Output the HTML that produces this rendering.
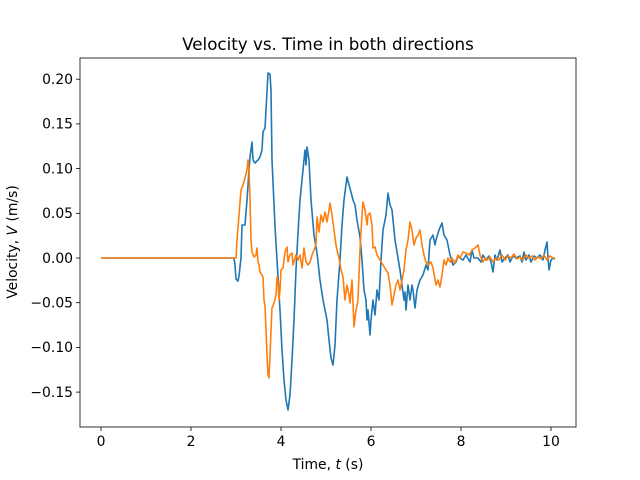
<!DOCTYPE html>
<html><head><style>body{margin:0;background:#fff}svg{display:block}</style></head><body>
<svg width="640" height="480" xmlns="http://www.w3.org/2000/svg" font-family="DejaVu Sans, Liberation Sans, sans-serif">
<rect width="640" height="480" fill="#fff"/>
<g fill="none" stroke-width="1.6" stroke-linejoin="round">
<polyline stroke="#1f77b4" points="101,258 234,258 235,265 236,279 238,281 239,276 241,258 242,225 245,225 247,200 249,170 250,157 252,142 253,160 255,163 258,160 260,157 262,150 263,132 265,128 266,110 268,73 270,74 271,90 272,160 275,226 277,260 280,310 282,350 284,380 286,400 288,410 290,395 292,360 294,320 296,270 298,233 300,200 303,170 305,150 306,165 307,147 309,160 311,200 314,235 317,253 320,280 323,300 327,320 329,340 331,358 333,365 335,345 337,300 340,260 342,225 344,200 347,177 349,185 351,192 353,200 355,205 357,220 360,237 362,260 364,290 366,300 367,320 368,310 370,335 371,320 373,300 375,315 377,290 379,300 381,260 383,230 386,215 388,193 390,205 392,210 393,220 395,240 398,258 400,270 402,285 404,300 405,292 406,310 408,285 410,300 412,285 413,290 415,308 417,290 420,280 423,275 426,265 428,270 430,240 433,235 435,245 436,240 439,230 442,223 444,235 447,240 450,255 453,265 456,262 458,256 460,258 463,260 466,255 470,262 472,250 474,258 478,258 481,262 483,255 486,260 489,256 491,262 493,272 495,255 497,260 500,250 502,262 505,258 508,255 510,262 513,256 516,258 520,256 522,262 524,252 526,260 529,255 531,262 534,256 537,258 540,255 543,260 545,250 547,242 548,258 549,270 551,260 553,258 555,259"/>
<polyline stroke="#ff7f0e" points="101,258 236,258 237,240 239,215 241,190 243,185 245,178 247,170 248,160 249,170 250,200 251,240 252,252 254,257 256,255 257,248 258,262 259,265 260,272 262,275 263,277 264,300 265,306 266,330 267,355 268,375 269,378 270,355 271,330 272,308 274,303 276,295 277,277 278,282 279,300 280,290 281,270 283,268 285,252 287,247 288,262 290,255 292,253 293,265 296,255 298,260 300,255 302,268 304,248 306,262 308,265 310,262 312,255 314,250 316,245 317,217 319,232 321,215 323,222 325,212 327,222 329,210 330,203 332,215 334,230 336,245 337,250 339,258 341,270 343,277 345,300 347,285 349,295 350,303 352,280 354,327 356,310 358,300 360,250 362,215 363,202 365,210 367,225 368,215 370,213 372,225 373,248 375,247 377,255 380,260 383,265 386,270 388,273 390,285 392,305 394,295 396,285 398,280 400,290 402,280 404,270 406,250 408,240 410,222 412,230 414,245 416,238 418,235 420,230 422,245 424,255 426,262 428,265 431,262 433,268 436,285 438,280 440,287 442,275 444,260 446,265 448,258 450,262 452,258 455,263 458,255 460,258 463,252 466,253 469,255 472,250 475,248 478,245 480,255 483,262 485,258 487,260 490,257 493,262 496,258 499,260 502,255 505,260 508,256 511,258 514,254 517,259 520,257 523,260 526,255 529,258 532,256 535,260 538,257 541,259 544,255 547,260 550,256 553,258 555,258"/>
</g>
<rect x="80" y="58" width="496" height="369" fill="none" stroke="#000" stroke-width="0.8"/>
<g stroke="#000" stroke-width="0.8">
<line x1="101" y1="427" x2="101" y2="431"/><line x1="191" y1="427" x2="191" y2="431"/><line x1="281" y1="427" x2="281" y2="431"/><line x1="371" y1="427" x2="371" y2="431"/><line x1="461" y1="427" x2="461" y2="431"/><line x1="551" y1="427" x2="551" y2="431"/>
<line x1="76" y1="79.2" x2="80" y2="79.2"/><line x1="76" y1="123.9" x2="80" y2="123.9"/><line x1="76" y1="168.6" x2="80" y2="168.6"/><line x1="76" y1="213.3" x2="80" y2="213.3"/><line x1="76" y1="258" x2="80" y2="258"/><line x1="76" y1="302.7" x2="80" y2="302.7"/><line x1="76" y1="347.4" x2="80" y2="347.4"/><line x1="76" y1="392.1" x2="80" y2="392.1"/>
</g>
<g font-size="13.9" fill="#000" text-anchor="middle">
<text x="101" y="446">0</text><text x="191" y="446">2</text><text x="281" y="446">4</text><text x="371" y="446">6</text><text x="461" y="446">8</text><text x="551" y="446">10</text>
</g>
<g font-size="13.9" fill="#000" text-anchor="end">
<text x="73" y="84">0.20</text><text x="73" y="128.7">0.15</text><text x="73" y="173.4">0.10</text><text x="73" y="218">0.05</text><text x="73" y="262.8">0.00</text><text x="73" y="307.5">−0.05</text><text x="73" y="352.2">−0.10</text><text x="73" y="397">−0.15</text>
</g>
<text x="328" y="469" font-size="13.9" text-anchor="middle">Time, <tspan font-style="italic">t</tspan> (s)</text>
<text transform="translate(17,242) rotate(-90)" font-size="13.9" text-anchor="middle">Velocity, <tspan font-style="italic">V</tspan> (m/s)</text>
<text x="328" y="50" font-size="16.7" text-anchor="middle">Velocity vs. Time in both directions</text>
</svg>
</body></html>
